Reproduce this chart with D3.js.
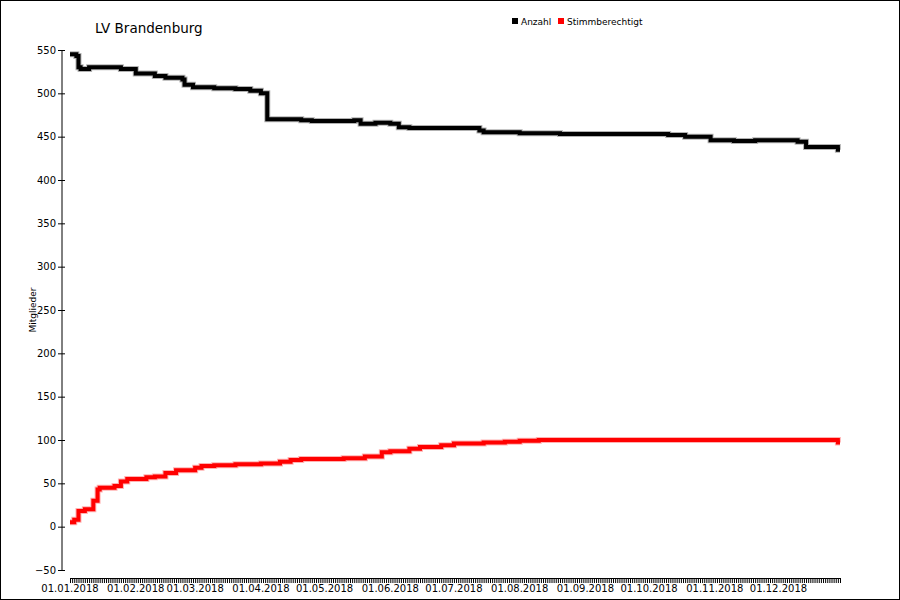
<!DOCTYPE html><html><head><meta charset="utf-8">
<script src="https://cdn.jsdelivr.net/npm/d3@7"></script>
<style>body{margin:0;background:#fff}svg{display:block}text{font-family:"DejaVu Sans",Verdana,sans-serif}</style></head><body>
<svg id="c" width="900" height="600"></svg>
<script>
const anzahlDates=["2018-01-01","2018-01-04","2018-01-05","2018-01-06","2018-01-10","2018-01-25","2018-02-01","2018-02-10","2018-02-15","2018-02-23","2018-02-24","2018-02-28","2018-03-10","2018-03-20","2018-03-27","2018-04-01","2018-04-04","2018-04-20","2018-04-25","2018-05-15","2018-05-18","2018-05-25","2018-06-01","2018-06-05","2018-06-10","2018-07-13","2018-07-15","2018-08-01","2018-08-20","2018-10-10","2018-10-18","2018-10-30","2018-11-10","2018-11-20","2018-12-10","2018-12-14","2018-12-29","2018-12-30"];
const anzahlValues=[545,543,530,528,530,528,523,520,518,516,510,507,506,505,503,500,470,469,468,469,465,466,465,461,460,457,455,454,453,452,450,446,445,446,444,438,435,435];
const stimmDates=["2018-01-01","2018-01-03","2018-01-05","2018-01-08","2018-01-12","2018-01-14","2018-01-15","2018-01-22","2018-01-25","2018-01-28","2018-02-06","2018-02-10","2018-02-15","2018-02-20","2018-03-01","2018-03-04","2018-03-10","2018-03-20","2018-04-01","2018-04-10","2018-04-15","2018-04-20","2018-05-10","2018-05-20","2018-05-28","2018-06-01","2018-06-10","2018-06-15","2018-06-25","2018-07-01","2018-07-15","2018-07-25","2018-08-01","2018-08-10","2018-12-29","2018-12-30"];
const stimmValues=[5,8,18,20,30,43,45,47,52,55,57,58,62,65,68,70,71,72,73,75,77,78,79,81,86,87,90,92,94,96,97,98,99,100,97,97];
const yTicks=[-50,0,50,100,150,200,250,300,350,400,450,500,550];
const monthLabels=["01.01.2018","01.02.2018","01.03.2018","01.04.2018","01.05.2018","01.06.2018","01.07.2018","01.08.2018","01.09.2018","01.10.2018","01.11.2018","01.12.2018"];
const pd=d3.timeParse("%Y-%m-%d");
const svg=d3.select("#c");
svg.append("rect").attr("x",0.5).attr("y",0.5).attr("width",899).attr("height",599).attr("fill","none").attr("stroke","#000");
const x=d3.scaleTime().domain([pd("2018-01-01"),pd("2018-12-30")]).range([70,840]);
const y=d3.scaleLinear().domain([-50,550]).range([570,50]);
const ya=svg.append("g").attr("transform","translate(62,0)").call(d3.axisLeft(y).tickValues(yTicks).tickSize(4));
ya.select(".domain").attr("d","M0,50V570");
ya.selectAll(".tick line").attr("x1",-4).attr("x2",3);
ya.selectAll("text").attr("font-size",10).attr("fill","#000").attr("x",-6);
const days=d3.timeDay.range(pd("2018-01-01"),pd("2018-12-31"));
const xa=svg.append("g").attr("transform","translate(0,578)").call(d3.axisBottom(x).tickValues(days).tickSize(5).tickFormat(""));
xa.selectAll(".tick line").attr("stroke","#000");
const months=d3.timeMonth.range(pd("2018-01-01"),pd("2018-12-31"));
svg.append("g").selectAll("text").data(months).join("text").attr("x",d=>x(d)).attr("y",592).attr("text-anchor","middle").attr("font-size",10).text((d,i)=>monthLabels[i]);
svg.append("text").attr("transform","translate(36,310) rotate(-90)").attr("text-anchor","middle").attr("font-size",9).text("Mitglieder");
svg.append("text").attr("x",95).attr("y",33).attr("font-size",13.5).text("LV Brandenburg");
function draw(ds,vs,col){
 const data=ds.map((d,i)=>[pd(d),vs[i]]);
 const line=d3.line().x(d=>x(d[0])).y(d=>y(d[1])).curve(d3.curveStepAfter);
 svg.append("path").datum(data).attr("d",line).attr("fill","none").attr("stroke",col).attr("stroke-opacity",0.3).attr("stroke-width",6);
 svg.append("path").datum(data).attr("d",line).attr("fill","none").attr("stroke",col).attr("stroke-width",4);
}
draw(anzahlDates,anzahlValues,"#000");
draw(stimmDates,stimmValues,"#f00");
const leg=[["Anzahl","#000",512],["Stimmberechtigt","#f00",558]];
leg.forEach(l=>{svg.append("rect").attr("x",l[2]).attr("y",18).attr("width",6).attr("height",6).attr("fill",l[1]);
svg.append("text").attr("x",l[2]+9).attr("y",25).attr("font-size",9).text(l[0]);});
</script></body></html>
